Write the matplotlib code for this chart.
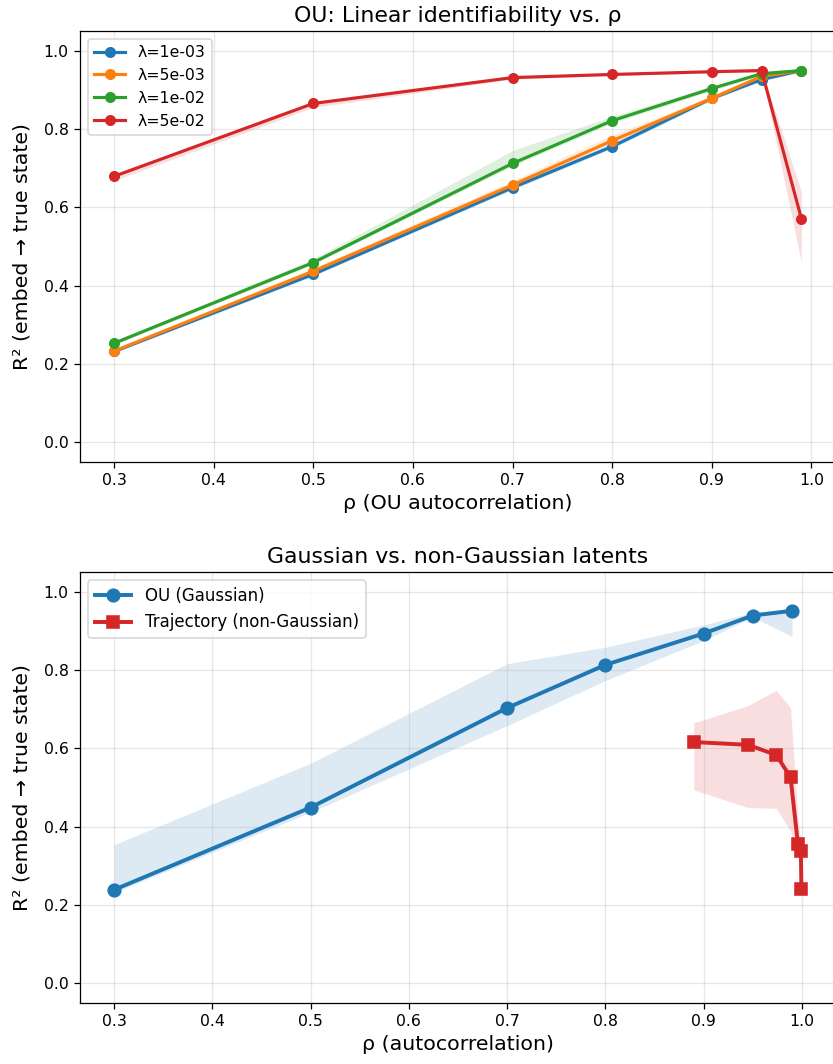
import matplotlib
matplotlib.use("Agg")
import matplotlib.pyplot as plt

# ---- Top panel data ----
rho = [0.3, 0.5, 0.7, 0.8, 0.9, 0.95, 0.99]
lam_labels = ["λ=1e-03", "λ=5e-03", "λ=1e-02", "λ=5e-02"]
r2_lam1 = [0.232, 0.429, 0.650, 0.755, 0.878, 0.926, 0.949]
lo_lam1 = [0.228, 0.425, 0.645, 0.750, 0.873, 0.922, 0.946]
hi_lam1 = [0.236, 0.434, 0.656, 0.765, 0.885, 0.932, 0.952]
r2_lam2 = [0.233, 0.437, 0.657, 0.770, 0.878, 0.934, 0.949]
lo_lam2 = [0.229, 0.432, 0.652, 0.765, 0.873, 0.929, 0.946]
hi_lam2 = [0.237, 0.445, 0.668, 0.785, 0.884, 0.940, 0.952]
r2_lam3 = [0.253, 0.459, 0.712, 0.821, 0.903, 0.941, 0.949]
lo_lam3 = [0.249, 0.455, 0.706, 0.815, 0.898, 0.937, 0.946]
hi_lam3 = [0.258, 0.468, 0.745, 0.832, 0.909, 0.946, 0.952]
r2_lam4 = [0.679, 0.865, 0.931, 0.939, 0.946, 0.949, 0.571]
lo_lam4 = [0.668, 0.855, 0.927, 0.936, 0.943, 0.945, 0.460]
hi_lam4 = [0.684, 0.870, 0.935, 0.942, 0.949, 0.953, 0.640]

# ---- Bottom panel data ----
ou_rho = [0.3, 0.5, 0.7, 0.8, 0.9, 0.95, 0.99]
ou_r2 = [0.239, 0.449, 0.703, 0.813, 0.893, 0.939, 0.951]
ou_lo = [0.232, 0.437, 0.658, 0.773, 0.875, 0.935, 0.885]
ou_hi = [0.354, 0.562, 0.816, 0.858, 0.915, 0.947, 0.951]
traj_rho = [0.89, 0.945, 0.974, 0.9885, 0.996, 0.999, 0.9995]
traj_r2 = [0.616, 0.609, 0.583, 0.526, 0.355, 0.338, 0.242]
traj_lo = [0.494, 0.449, 0.447, 0.388, 0.330, 0.300, 0.190]
traj_hi = [0.665, 0.709, 0.748, 0.703, 0.420, 0.360, 0.270]

colors = ["#1f77b4", "#ff7f0e", "#2ca02c", "#d62728"]

DPI = 113.4
fig = plt.figure(figsize=(833 / DPI, 1064 / DPI), dpi=DPI)
ax1 = fig.add_axes([0.0957, 0.5658, 0.9076, 0.4051])
ax2 = fig.add_axes([0.0957, 0.0573, 0.9076, 0.4051])

series = [(r2_lam1, lo_lam1, hi_lam1), (r2_lam2, lo_lam2, hi_lam2),
          (r2_lam3, lo_lam3, hi_lam3), (r2_lam4, lo_lam4, hi_lam4)]
for (m, lo, hi), lab, c in zip(series, lam_labels, colors):
    ax1.plot(rho, m, marker="o", color=c, lw=2, ms=6, label=lab)
    ax1.fill_between(rho, lo, hi, color=c, alpha=0.15, lw=0)
ax1.set_ylim(-0.05, 1.05)
ax1.set_title("OU: Linear identifiability vs. ρ", fontsize=14)
ax1.set_xlabel("ρ (OU autocorrelation)", fontsize=13)
ax1.set_ylabel("R² (embed → true state)", fontsize=13, labelpad=8)
ax1.grid(True, alpha=0.3)
ax1.legend(loc="upper left", fontsize=10)
ax1.tick_params(labelsize=10)

ax2.plot(ou_rho, ou_r2, marker="o", color=colors[0], lw=2.5, ms=8, label="OU (Gaussian)")
ax2.fill_between(ou_rho, ou_lo, ou_hi, color=colors[0], alpha=0.15, lw=0)
ax2.plot(traj_rho, traj_r2, marker="s", color=colors[3], lw=2.5, ms=8, label="Trajectory (non-Gaussian)")
ax2.fill_between(traj_rho, traj_lo, traj_hi, color=colors[3], alpha=0.15, lw=0)
ax2.set_ylim(-0.05, 1.05)
ax2.set_title("Gaussian vs. non-Gaussian latents", fontsize=14)
ax2.set_xlabel("ρ (autocorrelation)", fontsize=13)
ax2.set_ylabel("R² (embed → true state)", fontsize=13, labelpad=8)
ax2.grid(True, alpha=0.3)
ax2.legend(loc="upper left", fontsize=10.6, handlelength=2.2)
ax2.tick_params(labelsize=10)

fig.savefig("out.png", dpi=DPI)
